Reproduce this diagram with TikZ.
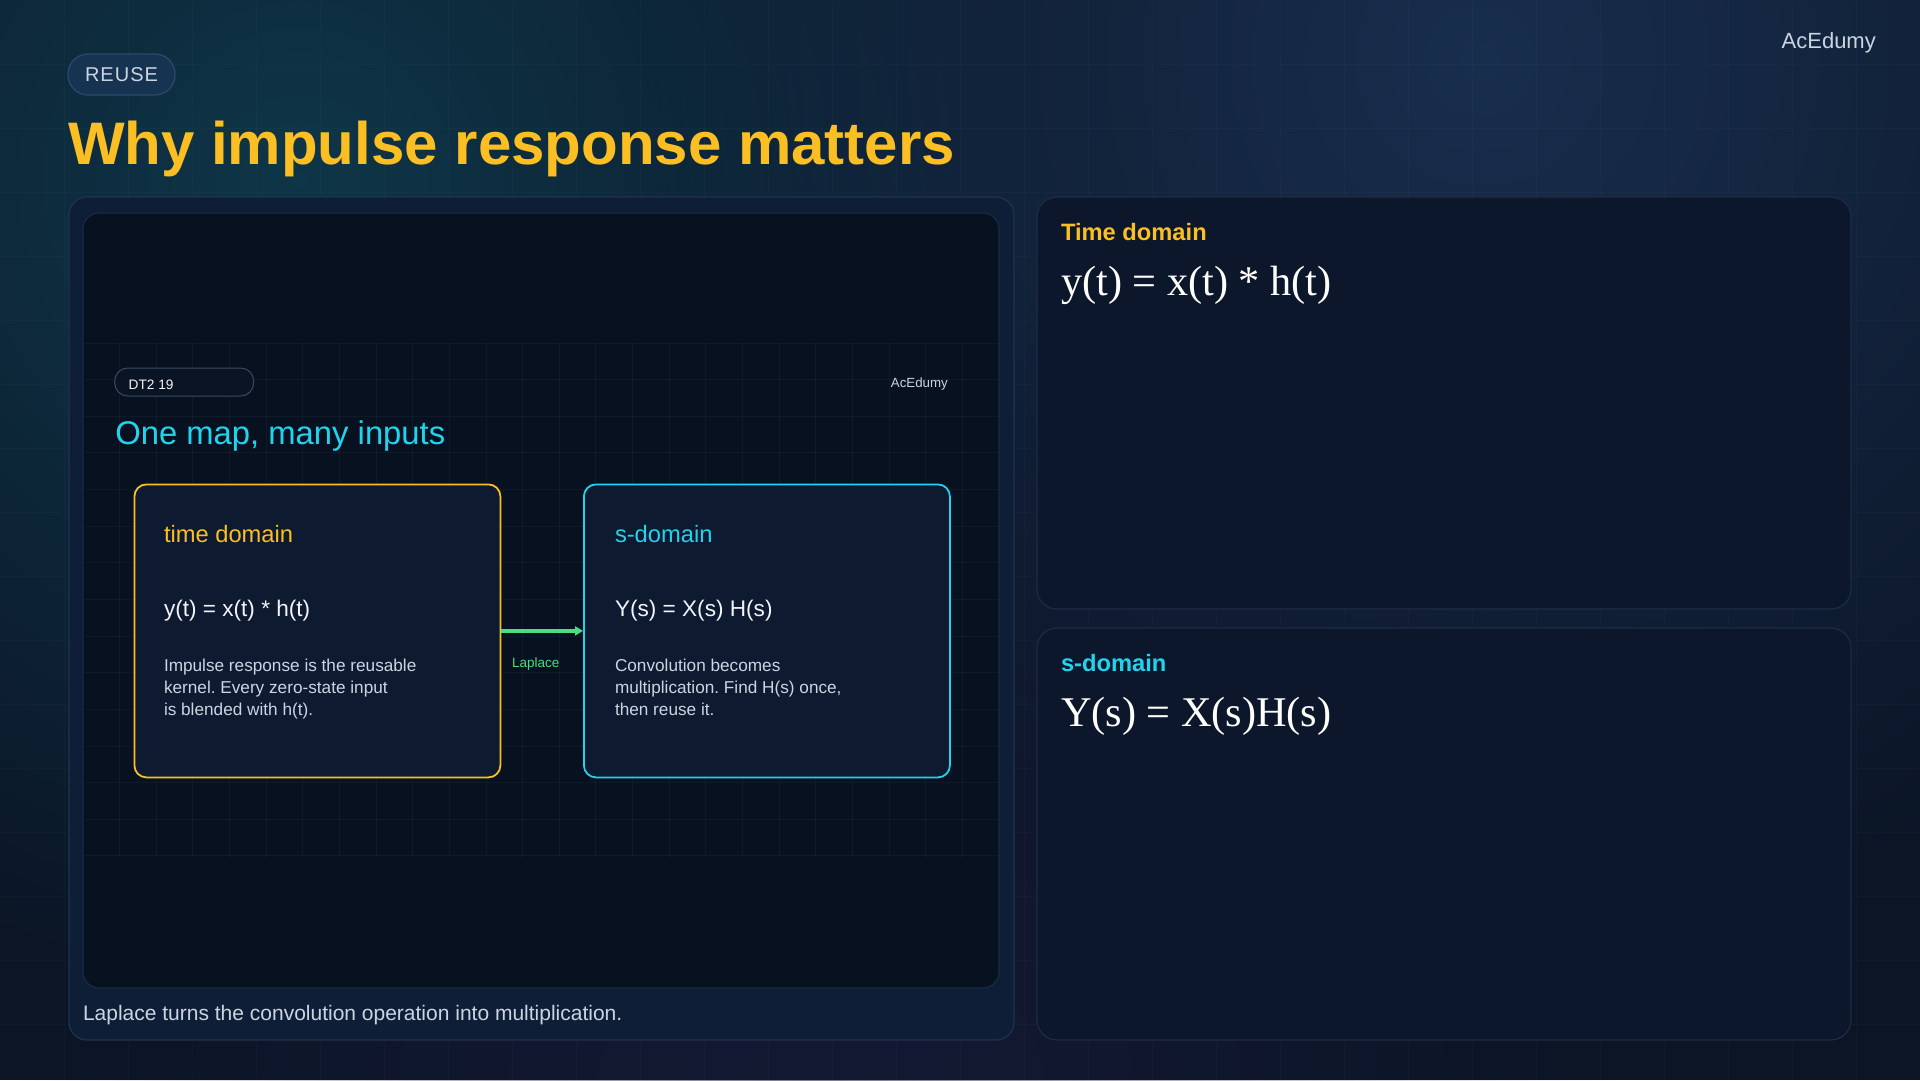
\documentclass[tikz,border=0pt]{standalone}
\usepackage{fontspec}
\setmainfont{Liberation Sans}
\newfontfamily\eqfont{Liberation Serif}
\usetikzlibrary{arrows.meta,fadings}
\definecolor{bgbase}{HTML}{0B1526}
\definecolor{glowteal}{HTML}{0F3A4C}
\definecolor{glowblue}{HTML}{1C3558}
\definecolor{glowviolet}{HTML}{1A1C3C}
\definecolor{amber}{HTML}{FBBF24}
\definecolor{cyanc}{HTML}{22D3EE}
\definecolor{greenc}{HTML}{4ADE80}
\definecolor{bodytxt}{HTML}{CBD5E1}
\definecolor{softwhite}{HTML}{F1F5F9}
\definecolor{leftfill}{HTML}{0F1E37}
\definecolor{leftline}{HTML}{20324F}
\definecolor{innerfill}{HTML}{08111F}
\definecolor{innerline}{HTML}{1A2A42}
\definecolor{rightfill}{HTML}{0C172B}
\definecolor{rightline}{HTML}{1D2B44}
\definecolor{boxfill}{HTML}{0D1A30}
\definecolor{pillfill}{HTML}{163351}
\definecolor{pillline}{HTML}{2B4B6A}
\definecolor{smallpill}{HTML}{0B1424}
\definecolor{smallpillline}{HTML}{3A4A60}
\tikzfading[name=softglow, inner color=transparent!0, outer color=transparent!100]
\begin{document}
\frenchspacing
\begin{tikzpicture}[x=1pt,y=-1pt,
  txt/.style={anchor=base west, inner sep=0pt, outer sep=0pt},
  bigpanel/.style={rounded corners=18pt, fill=leftfill, draw=leftline, line width=1.2pt},
  innerpanel/.style={rounded corners=16pt, fill=innerfill, draw=innerline, line width=1.2pt},
  sidepanel/.style={rounded corners=20pt, fill=rightfill, draw=rightline, line width=1.2pt},
  domainbox/.style={rounded corners=12pt, fill=boxfill, line width=1.8pt, minimum width=366pt, minimum height=293pt, anchor=north west, inner sep=0pt},
  glowfill/.style={path fading=softglow},
  bggrid/.style={white, opacity=0.02, line width=1pt},
  imggrid/.style={white, opacity=0.035, line width=1pt}
]
\useasboundingbox (0,0) rectangle (1920,1080);
% background
\fill[bgbase] (0,0) rectangle (1920,1080);
\fill[glowteal, fill opacity=0.9, glowfill] (300,180) circle [radius=820];
\fill[glowblue, fill opacity=0.8, glowfill] (1480,60) circle [radius=900];
\fill[glowviolet, fill opacity=0.6, glowfill] (820,1120) circle [radius=800];
\foreach \i in {1,...,29} \draw[bggrid] (64*\i,0) -- (64*\i,1080);
\foreach \j in {1,...,16} \draw[bggrid] (0,64*\j) -- (1920,64*\j);

% header
\node[rounded corners=20pt, fill=pillfill, draw=pillline, line width=1.2pt, minimum width=107pt, minimum height=41pt, inner sep=0pt, text=bodytxt] (reuse) at (121.5,74.5) {\fontsize{20}{24}\selectfont\addfontfeature{LetterSpace=5}REUSE};
\node[txt, text=amber] (title) at (68,164) {\fontsize{60}{70}\selectfont\bfseries Why impulse response matters};
\node[anchor=base east, inner sep=0pt, text=bodytxt] (brand) at (1876,48) {\fontsize{22}{26}\selectfont AcEdumy};

% left panel
\draw[bigpanel] (69,197) rectangle (1014,1040);
\draw[innerpanel] (83,213) rectangle (999,988);
\foreach \i in {1,...,24} \draw[imggrid] (83+36.64*\i,343) -- (83+36.64*\i,858);
\foreach \j in {0,...,14} \draw[imggrid] (84,343+36.64*\j) -- (998,343+36.64*\j);
\node[txt, text=bodytxt] (caption) at (83,1020) {\fontsize{21}{25}\selectfont Laplace turns the convolution operation into multiplication.};

% embedded slide
\node[rounded corners=13pt, fill=smallpill, draw=smallpillline, line width=1pt, minimum width=139pt, minimum height=28pt, inner sep=0pt] (dtpill) at (184.2,382) {};
\node[txt, text=softwhite] (dttxt) at (128.7,389.7) {\fontsize{13.7}{16}\selectfont DT2 19};
\node[anchor=base east, inner sep=0pt, text=bodytxt] (brandsmall) at (948,387) {\fontsize{13.3}{16}\selectfont AcEdumy};
\node[txt, text=cyanc] (slidetitle) at (115.3,444) {\fontsize{32.8}{38}\selectfont One map, many inputs};

\node[domainbox, draw=amber] (td) at (133.5,483.5) {};
\node[domainbox, draw=cyanc] (sd) at (583,483.5) {};
\draw[greenc, line width=4pt, -{Triangle[length=8pt,width=9pt]}] (td.east) -- (sd.west);
\node[txt, text=greenc] (lap) at (512,667) {\fontsize{13.5}{16}\selectfont Laplace};

\node[txt, text=amber] (tdh) at (164,542) {\fontsize{23.7}{28}\selectfont time domain};
\node[txt, text=softwhite] (tdf) at (164,616) {\fontsize{22.6}{27}\selectfont y(t) = x(t) * h(t)};
\node[txt, text=bodytxt] (tdl1) at (164,671) {\fontsize{17.2}{22}\selectfont Impulse response is the reusable};
\node[txt, text=bodytxt] (tdl2) at (164,693) {\fontsize{17.2}{22}\selectfont kernel. Every zero-state input};
\node[txt, text=bodytxt] (tdl3) at (164,715) {\fontsize{17.2}{22}\selectfont is blended with h(t).};

\node[txt, text=cyanc] (sdh) at (615,542) {\fontsize{23.7}{28}\selectfont s-domain};
\node[txt, text=softwhite] (sdf) at (615,616) {\fontsize{22.6}{27}\selectfont Y(s) = X(s) H(s)};
\node[txt, text=bodytxt] (sdl1) at (615,671) {\fontsize{17.2}{22}\selectfont Convolution becomes};
\node[txt, text=bodytxt] (sdl2) at (615,693) {\fontsize{17.2}{22}\selectfont multiplication. Find H(s) once,};
\node[txt, text=bodytxt] (sdl3) at (615,715) {\fontsize{17.2}{22}\selectfont then reuse it.};

% right panels
\draw[sidepanel] (1037,197) rectangle (1851,609);
\node[txt, text=amber] (rth) at (1061,240) {\fontsize{23.7}{28}\selectfont\bfseries Time domain};
\node[txt, text=white] (rtf) at (1061,295) {\fontsize{42.3}{50}\selectfont\eqfont y(t) = x(t) * h(t)};

\draw[sidepanel] (1037,628) rectangle (1851,1040);
\node[txt, text=cyanc] (rbh) at (1061,671) {\fontsize{23.7}{28}\selectfont\bfseries s-domain};
\node[txt, text=white] (rbf) at (1061,726) {\fontsize{42.3}{50}\selectfont\eqfont Y(s) = X(s)H(s)};
\end{tikzpicture}
\end{document}
